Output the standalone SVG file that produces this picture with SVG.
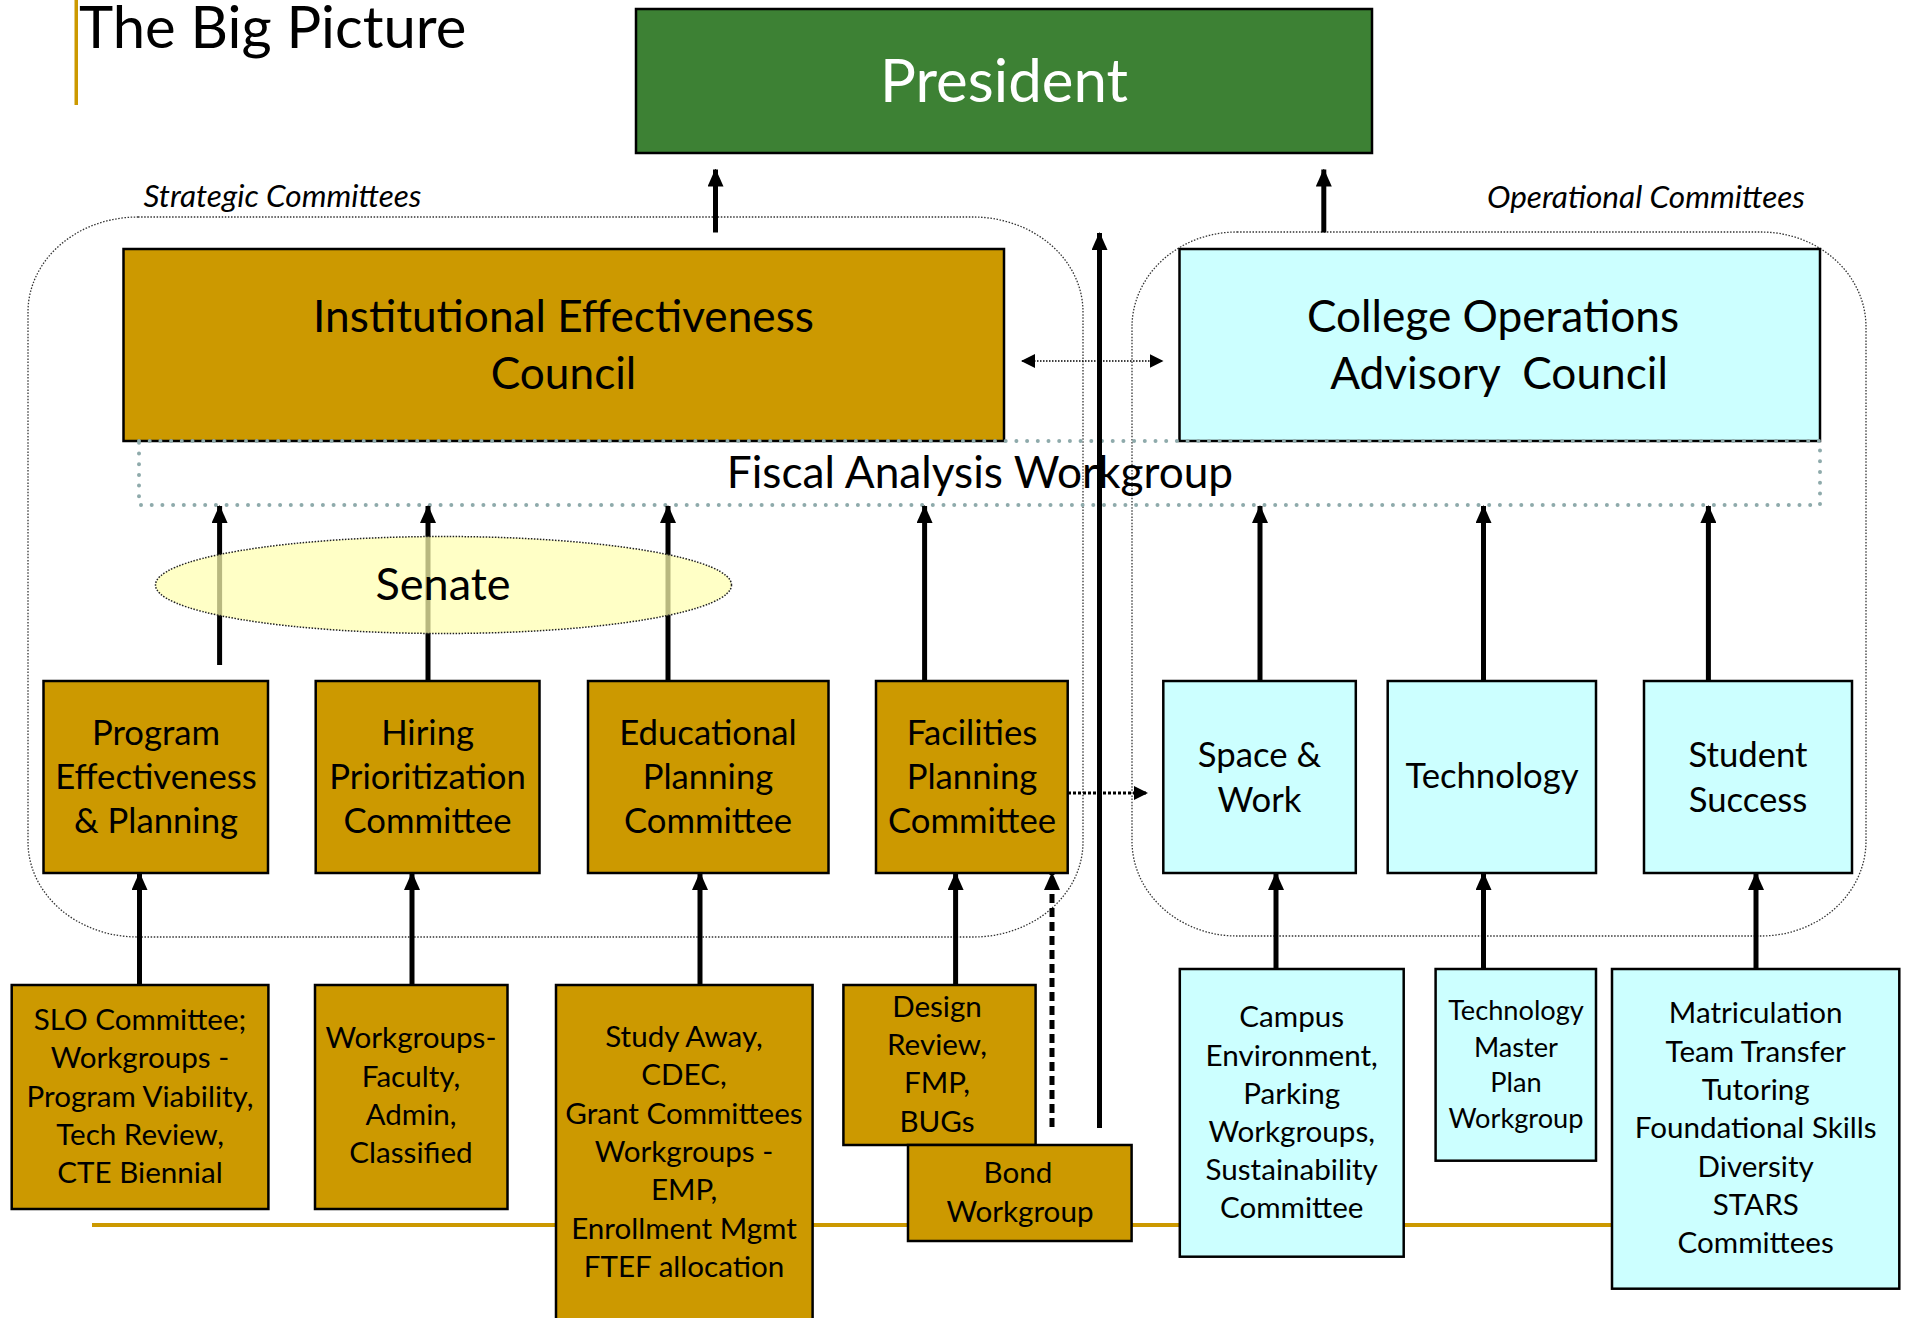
<svg xmlns="http://www.w3.org/2000/svg" width="1907" height="1318" viewBox="0 0 1907 1318">
  <defs>
    <marker id="head" viewBox="0 0 18 16" refX="17" refY="8" markerWidth="18" markerHeight="16" markerUnits="userSpaceOnUse" orient="auto">
      <path d="M0,0 L18,8 L0,16 Z" fill="#000"/>
    </marker>
    <marker id="headSmall" viewBox="0 0 14 14" refX="13" refY="7" markerWidth="14" markerHeight="14" markerUnits="userSpaceOnUse" orient="auto-start-reverse">
      <path d="M0,0 L14,7 L0,14 Z" fill="#000"/>
    </marker>
  </defs>
  <style>
    text { font-family: Lato, "Open Sans", "Liberation Sans", sans-serif; fill: #000; }
    .c { text-anchor: middle; }
    .gold { fill: #cc9900; stroke: #000; stroke-width: 2.5; }
    .cyan { fill: #ccffff; stroke: #000; stroke-width: 2.5; }
    .mid { font-size: 34.7px; }
    .small { font-size: 29.6px; }
    .tiny { font-size: 27.2px; }
    .big { font-size: 44.2px; }
    .lbl { font-size: 31.5px; font-style: italic; }
    .group { fill: none; stroke: #333; stroke-width: 1.3; stroke-dasharray: 1.5 1.6; }
    .arrow { stroke: #000; stroke-width: 5; fill: none; marker-end: url(#head); }
    .dots { fill: none; stroke: #8eaaab; stroke-width: 4; stroke-linecap: round; stroke-dasharray: 0 10.7; }
  </style>

  <rect width="1907" height="1318" fill="#fff"/>

  <!-- title -->
  <g id="title">
    <rect x="74.5" y="0" width="3.5" height="105" fill="#cc9900"/>
    <text x="79" y="48" font-size="58">The Big Picture</text>
  </g>

  <!-- base rule behind the lower boxes -->
  <line x1="92" y1="1225" x2="1612" y2="1225" stroke="#cc9900" stroke-width="4"/>

  <!-- committee groupings -->
  <g id="strategic-group">
    <rect class="group" x="28" y="217" width="1055" height="720" rx="110" ry="95"/>
    <text class="lbl" x="143.5" y="207">Strategic Committees</text>
  </g>
  <g id="operational-group">
    <rect class="group" x="1132" y="232" width="734" height="704" rx="105" ry="95"/>
    <text class="lbl" x="1487" y="208">Operational Committees</text>
  </g>

  <g id="president">
    <rect x="636" y="9" width="736" height="144" fill="#3d8134" stroke="#000" stroke-width="2.5"/>
    <text class="c" x="1004" y="102" font-size="60" style="fill:#fff">President</text>
  </g>

  <g id="iec">
    <rect class="gold" x="123.5" y="249" width="880.5" height="192"/>
    <text class="c big" x="563.5" y="331.7">Institutional Effectiveness</text>
    <text class="c big" x="563.5" y="389.3">Council</text>
  </g>

  <g id="coac">
    <rect class="cyan" x="1179.5" y="249" width="640.5" height="192"/>
    <text class="c big" x="1493" y="331.7">College Operations</text>
    <text class="c big" x="1499" y="389.3" xml:space="preserve">Advisory  Council</text>
  </g>

  <g id="fiscal">
    <rect class="dots" x="139" y="441" width="1681" height="64"/>
    <text class="c big" x="980" y="488">Fiscal Analysis Workgroup</text>
  </g>

  <!-- upper committees -->
  <g id="program">
    <rect class="gold" x="43.5" y="681" width="224.5" height="192"/>
    <text class="c mid" x="156" y="745">Program</text>
    <text class="c mid" x="156" y="789">Effectiveness</text>
    <text class="c mid" x="156" y="833">&amp; Planning</text>
  </g>
  <g id="hiring">
    <rect class="gold" x="315.7" y="681" width="223.8" height="192"/>
    <text class="c mid" x="427.6" y="745">Hiring</text>
    <text class="c mid" x="427.6" y="789">Prioritization</text>
    <text class="c mid" x="427.6" y="833">Committee</text>
  </g>
  <g id="educational">
    <rect class="gold" x="588" y="681" width="240.5" height="192"/>
    <text class="c mid" x="708" y="745">Educational</text>
    <text class="c mid" x="708" y="789">Planning</text>
    <text class="c mid" x="708" y="833">Committee</text>
  </g>
  <g id="facilities">
    <rect class="gold" x="876" y="681" width="191.7" height="192"/>
    <text class="c mid" x="972" y="745">Facilities</text>
    <text class="c mid" x="972" y="789">Planning</text>
    <text class="c mid" x="972" y="833">Committee</text>
  </g>
  <g id="space-work">
    <rect class="cyan" x="1163.3" y="681" width="192.5" height="192"/>
    <text class="c mid" x="1259.5" y="766.7">Space &amp;</text>
    <text class="c mid" x="1259.5" y="811.7">Work</text>
  </g>
  <g id="technology">
    <rect class="cyan" x="1387.7" y="681" width="208.3" height="192"/>
    <text class="c mid" x="1492" y="788">Technology</text>
  </g>
  <g id="student-success">
    <rect class="cyan" x="1644" y="681" width="208" height="192"/>
    <text class="c mid" x="1748" y="766.7">Student</text>
    <text class="c mid" x="1748" y="811.7">Success</text>
  </g>

  <!-- lower workgroups -->
  <g id="slo">
    <rect class="gold" x="11.7" y="985" width="256.7" height="224"/>
    <text class="c small" x="140" y="1030">SLO Committee;</text>
    <text class="c small" x="140" y="1068.3">Workgroups -</text>
    <text class="c small" x="140" y="1106.6">Program Viability,</text>
    <text class="c small" x="140" y="1145">Tech Review,</text>
    <text class="c small" x="140" y="1183.3">CTE Biennial</text>
  </g>
  <g id="hiring-workgroups">
    <rect class="gold" x="315" y="985" width="192.5" height="224"/>
    <text class="c small" x="411" y="1048.3">Workgroups-</text>
    <text class="c small" x="411" y="1086.7">Faculty,</text>
    <text class="c small" x="411" y="1125">Admin,</text>
    <text class="c small" x="411" y="1163.3">Classified</text>
  </g>
  <g id="study-away">
    <rect class="gold" x="556" y="985" width="256.6" height="345"/>
    <text class="c small" x="684" y="1047">Study Away,</text>
    <text class="c small" x="684" y="1085.3">CDEC,</text>
    <text class="c small" x="684" y="1123.6">Grant Committees</text>
    <text class="c small" x="684" y="1162">Workgroups -</text>
    <text class="c small" x="684" y="1200.3">EMP,</text>
    <text class="c small" x="684" y="1238.6">Enrollment Mgmt</text>
    <text class="c small" x="684" y="1277">FTEF allocation</text>
  </g>
  <g id="design">
    <rect class="gold" x="843.4" y="985" width="192.2" height="160"/>
    <text class="c small" x="937" y="1016.7">Design</text>
    <text class="c small" x="937" y="1055">Review,</text>
    <text class="c small" x="937" y="1093.3">FMP,</text>
    <text class="c small" x="937" y="1131.6">BUGs</text>
  </g>
  <g id="bond">
    <rect class="gold" x="908" y="1145" width="223.6" height="96"/>
    <text class="c small" x="1018" y="1183.3">Bond</text>
    <text class="c small" x="1020" y="1221.7">Workgroup</text>
  </g>
  <g id="campus">
    <rect class="cyan" x="1179.8" y="969" width="223.9" height="287.7"/>
    <text class="c small" x="1291.7" y="1027.3">Campus</text>
    <text class="c small" x="1291.7" y="1065.5">Environment,</text>
    <text class="c small" x="1291.7" y="1103.7">Parking</text>
    <text class="c small" x="1291.7" y="1141.9">Workgroups,</text>
    <text class="c small" x="1291.7" y="1180.1">Sustainability</text>
    <text class="c small" x="1291.7" y="1218.3">Committee</text>
  </g>
  <g id="tech-master-plan">
    <rect class="cyan" x="1435.6" y="969" width="160.4" height="191.7"/>
    <text class="c tiny" x="1516" y="1020">Technology</text>
    <text class="c tiny" x="1516" y="1056.7">Master</text>
    <text class="c tiny" x="1516" y="1091.7">Plan</text>
    <text class="c tiny" x="1516" y="1128.3">Workgroup</text>
  </g>
  <g id="student-workgroups">
    <rect class="cyan" x="1612" y="969" width="287.3" height="319.7"/>
    <text class="c small" x="1755.7" y="1023.3">Matriculation</text>
    <text class="c small" x="1755.7" y="1061.7">Team Transfer</text>
    <text class="c small" x="1755.7" y="1100">Tutoring</text>
    <text class="c small" x="1755.7" y="1138.3">Foundational Skills</text>
    <text class="c small" x="1755.7" y="1176.7">Diversity</text>
    <text class="c small" x="1755.7" y="1215">STARS</text>
    <text class="c small" x="1755.7" y="1253.3">Committees</text>
  </g>

  <!-- connectors -->
  <g id="connectors">
    <line class="arrow" x1="715.5" y1="232.5" x2="715.5" y2="169.5"/>
    <line class="arrow" x1="1323.8" y1="232.5" x2="1323.8" y2="169.5"/>
    <line class="arrow" x1="1099.5" y1="1128" x2="1099.5" y2="233"/>
    <line x1="1022" y1="361" x2="1162.5" y2="361" stroke="#000" stroke-width="1.5" stroke-dasharray="1.5 1.5" marker-start="url(#headSmall)" marker-end="url(#headSmall)"/>

    <line class="arrow" x1="219.6" y1="665" x2="219.6" y2="506"/>
    <line class="arrow" x1="428" y1="681" x2="428" y2="506"/>
    <line class="arrow" x1="668" y1="681" x2="668" y2="506"/>
    <line class="arrow" x1="924.6" y1="681" x2="924.6" y2="506"/>
    <line class="arrow" x1="1260" y1="681" x2="1260" y2="506"/>
    <line class="arrow" x1="1483.5" y1="681" x2="1483.5" y2="506"/>
    <line class="arrow" x1="1708.4" y1="681" x2="1708.4" y2="506"/>

    <line x1="1068" y1="793" x2="1147" y2="793" stroke="#000" stroke-width="3" stroke-dasharray="3 2" marker-end="url(#headSmall)"/>

    <line class="arrow" x1="139.5" y1="985" x2="139.5" y2="873"/>
    <line class="arrow" x1="412" y1="985" x2="412" y2="873"/>
    <line class="arrow" x1="700" y1="985" x2="700" y2="873"/>
    <line class="arrow" x1="955.6" y1="985" x2="955.6" y2="873"/>
    <line x1="1052" y1="1127" x2="1052" y2="873" stroke="#000" stroke-width="5" stroke-dasharray="9 5" marker-end="url(#head)"/>
    <line class="arrow" x1="1276" y1="969" x2="1276" y2="873"/>
    <line class="arrow" x1="1483.5" y1="969" x2="1483.5" y2="873"/>
    <line class="arrow" x1="1756" y1="969" x2="1756" y2="873"/>
  </g>

  <!-- senate drawn over the arrows it sits on -->
  <g id="senate">
    <ellipse cx="443.5" cy="585" rx="288" ry="48.5" fill="#ffffb0" fill-opacity="0.72" stroke="#222" stroke-width="1.5" stroke-dasharray="1.5 1.5"/>
    <text class="c" x="443" y="600" font-size="45">Senate</text>
  </g>
</svg>
